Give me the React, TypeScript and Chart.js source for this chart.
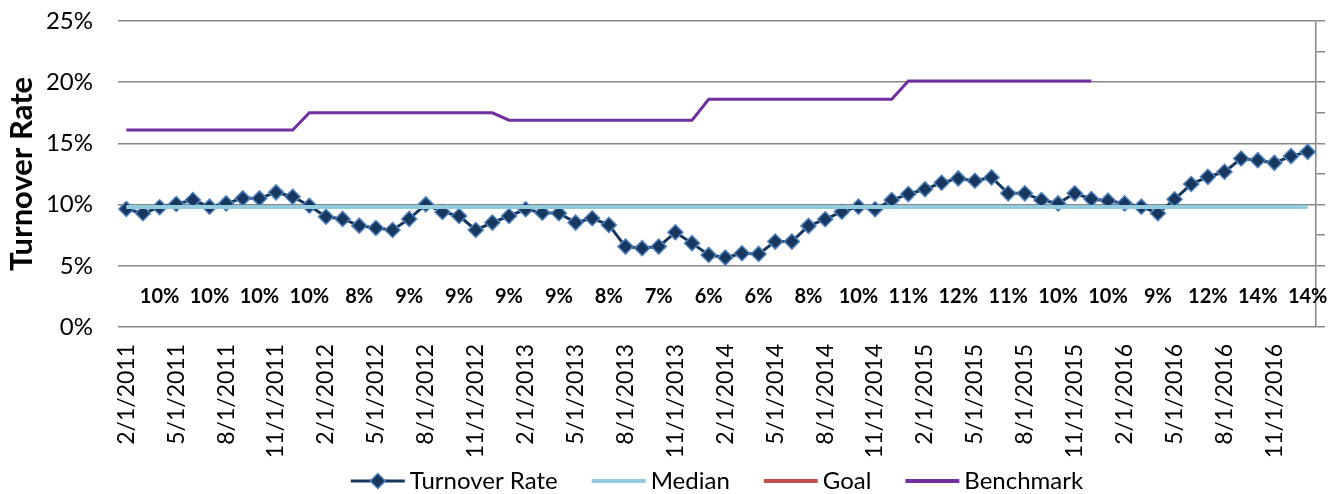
import React, { useEffect, useRef } from 'react';
import { Chart, registerables } from 'chart.js';

Chart.register(...registerables);

const months = [
  '2/1/2011', '3/1/2011', '4/1/2011', '5/1/2011', '6/1/2011', '7/1/2011', '8/1/2011', '9/1/2011', '10/1/2011', '11/1/2011', '12/1/2011', '1/1/2012',
  '2/1/2012', '3/1/2012', '4/1/2012', '5/1/2012', '6/1/2012', '7/1/2012', '8/1/2012', '9/1/2012', '10/1/2012', '11/1/2012', '12/1/2012', '1/1/2013',
  '2/1/2013', '3/1/2013', '4/1/2013', '5/1/2013', '6/1/2013', '7/1/2013', '8/1/2013', '9/1/2013', '10/1/2013', '11/1/2013', '12/1/2013', '1/1/2014',
  '2/1/2014', '3/1/2014', '4/1/2014', '5/1/2014', '6/1/2014', '7/1/2014', '8/1/2014', '9/1/2014', '10/1/2014', '11/1/2014', '12/1/2014', '1/1/2015',
  '2/1/2015', '3/1/2015', '4/1/2015', '5/1/2015', '6/1/2015', '7/1/2015', '8/1/2015', '9/1/2015', '10/1/2015', '11/1/2015', '12/1/2015', '1/1/2016',
  '2/1/2016', '3/1/2016', '4/1/2016', '5/1/2016', '6/1/2016', '7/1/2016', '8/1/2016', '9/1/2016', '10/1/2016', '11/1/2016', '12/1/2016', '1/1/2017',
];

const turnoverRate = [
  9.64, 9.29, 9.78, 10.05, 10.37, 9.83, 10.1, 10.51, 10.51, 11.0, 10.64, 9.91,
  9.01, 8.83, 8.28, 8.09, 7.93, 8.83, 10.02, 9.4, 9.07, 7.93, 8.53, 9.07,
  9.62, 9.34, 9.29, 8.53, 8.88, 8.34, 6.57, 6.44, 6.57, 7.74, 6.85, 5.89,
  5.67, 6.03, 5.97, 6.98, 6.98, 8.26, 8.8, 9.42, 9.83, 9.62, 10.37, 10.86,
  11.25, 11.79, 12.14, 11.95, 12.22, 10.92, 10.92, 10.37, 10.1, 10.92, 10.46, 10.32,
  10.1, 9.83, 9.29, 10.43, 11.68, 12.27, 12.68, 13.77, 13.63, 13.41, 13.96, 14.31,
];

const medianRate = [
  9.8, 9.8, 9.8, 9.8, 9.8, 9.8, 9.8, 9.8, 9.8, 9.8, 9.8, 9.8,
  9.8, 9.8, 9.8, 9.8, 9.8, 9.8, 9.8, 9.8, 9.8, 9.8, 9.8, 9.8,
  9.8, 9.8, 9.8, 9.8, 9.8, 9.8, 9.8, 9.8, 9.8, 9.8, 9.8, 9.8,
  9.8, 9.8, 9.8, 9.8, 9.8, 9.8, 9.8, 9.8, 9.8, 9.8, 9.8, 9.8,
  9.8, 9.8, 9.8, 9.8, 9.8, 9.8, 9.8, 9.8, 9.8, 9.8, 9.8, 9.8,
  9.8, 9.8, 9.8, 9.8, 9.8, 9.8, 9.8, 9.8, 9.8, 9.8, 9.8, 9.8,
];

const goalRate: (number | null)[] = [];

const benchmarkRate: (number | null)[] = [
  16.1, 16.1, 16.1, 16.1, 16.1, 16.1, 16.1, 16.1, 16.1, 16.1, 16.1, 17.5,
  17.5, 17.5, 17.5, 17.5, 17.5, 17.5, 17.5, 17.5, 17.5, 17.5, 17.5, 16.9,
  16.9, 16.9, 16.9, 16.9, 16.9, 16.9, 16.9, 16.9, 16.9, 16.9, 16.9, 18.6,
  18.6, 18.6, 18.6, 18.6, 18.6, 18.6, 18.6, 18.6, 18.6, 18.6, 18.6, 20.1,
  20.1, 20.1, 20.1, 20.1, 20.1, 20.1, 20.1, 20.1, 20.1, 20.1, 20.1, null,
  null, null, null, null, null, null, null, null, null, null, null, null,
];

const quarterEnds = [
  '4/1/2011', '7/1/2011', '10/1/2011', '1/1/2012', '4/1/2012', '7/1/2012', '10/1/2012', '1/1/2013',
  '4/1/2013', '7/1/2013', '10/1/2013', '1/1/2014', '4/1/2014', '7/1/2014', '10/1/2014', '1/1/2015',
  '4/1/2015', '7/1/2015', '10/1/2015', '1/1/2016', '4/1/2016', '7/1/2016', '10/1/2016', '1/1/2017',
];
const quarterRates = [10, 10, 10, 10, 8, 9, 9, 9, 9, 8, 7, 6, 6, 8, 10, 11, 12, 11, 10, 10, 9, 12, 14, 14];

const yTicks = [0, 5, 10, 15, 20, 25];

const FONT = 'Lato, "Open Sans", sans-serif';
const NAVY = '#17375E';
const MARKER_EDGE = '#4F81BD';
const MEDIAN = '#93CDDD';
const GOAL = '#C0504D';
const BENCH = '#7030A0';
const GRID = '#868686';

const quarterLabelPlugin = {
  id: 'quarterLabels',
  afterDatasetsDraw(chart: any) {
    const { ctx, scales } = chart;
    const x = scales.x;
    const y = scales.y;
    ctx.save();
    ctx.font = `bold 20px ${FONT}`;
    ctx.fillStyle = '#000';
    ctx.textAlign = 'center';
    ctx.textBaseline = 'middle';
    quarterEnds.forEach((m, i) => {
      const idx = months.indexOf(m);
      ctx.fillText(quarterRates[i] + '%', x.getPixelForValue(idx), y.getPixelForValue(2.5));
    });
    ctx.restore();
  },
};

// Legend drawn below the x-axis labels, centred under the plot area.
const LEGEND_LINE = 54;
const LEGEND_GAP = 5;
const LEGEND_ITEM_GAP = 34;
const LEGEND_Y = 481;
const LEGEND_FONT = 24;

const bottomLegendPlugin = {
  id: 'bottomLegend',
  afterDraw(chart: any) {
    const { ctx, chartArea } = chart;
    const datasets = chart.data.datasets;
    ctx.save();
    ctx.font = `${LEGEND_FONT}px ${FONT}`;
    const widths = datasets.map((d: any) => ctx.measureText(d.label).width);
    const total =
      widths.reduce((s: number, w: number) => s + w + LEGEND_LINE + LEGEND_GAP, 0) +
      LEGEND_ITEM_GAP * (datasets.length - 1);
    let x = (chartArea.left + chartArea.right) / 2 - total / 2;
    datasets.forEach((d: any, i: number) => {
      ctx.strokeStyle = d.borderColor;
      ctx.lineWidth = i === 0 ? 3 : 4;
      ctx.beginPath();
      ctx.moveTo(x, LEGEND_Y);
      ctx.lineTo(x + LEGEND_LINE, LEGEND_Y);
      ctx.stroke();
      if (d.pointStyle === 'rectRot') {
        const cx = x + LEGEND_LINE / 2;
        ctx.beginPath();
        ctx.moveTo(cx - 7.5, LEGEND_Y);
        ctx.lineTo(cx, LEGEND_Y - 7.5);
        ctx.lineTo(cx + 7.5, LEGEND_Y);
        ctx.lineTo(cx, LEGEND_Y + 7.5);
        ctx.closePath();
        ctx.fillStyle = d.pointBackgroundColor;
        ctx.fill();
        ctx.lineWidth = 1.5;
        ctx.strokeStyle = d.pointBorderColor;
        ctx.stroke();
      }
      x += LEGEND_LINE + LEGEND_GAP;
      ctx.fillStyle = '#000';
      ctx.textAlign = 'left';
      ctx.textBaseline = 'alphabetic';
      ctx.fillText(d.label, x, LEGEND_Y + 8);
      x += widths[i] + LEGEND_ITEM_GAP;
    });
    ctx.restore();
  },
};

export default function App() {
  const ref = useRef<HTMLCanvasElement>(null);

  useEffect(() => {
    document.body.style.margin = '0';
    const chart = new Chart(ref.current!, {
      type: 'line',
      data: {
        labels: months,
        datasets: [
          {
            label: 'Turnover Rate',
            data: turnoverRate,
            borderColor: NAVY,
            borderWidth: 3,
            backgroundColor: NAVY,
            pointStyle: 'rectRot',
            pointRadius: 7.5,
            pointBackgroundColor: NAVY,
            pointBorderColor: MARKER_EDGE,
            pointBorderWidth: 1.5,
            tension: 0,
            order: 3,
          },
          {
            label: 'Median',
            data: medianRate,
            borderColor: MEDIAN,
            backgroundColor: MEDIAN,
            borderWidth: 4,
            pointRadius: 0,
            order: 2,
          },
          {
            label: 'Goal',
            data: goalRate,
            borderColor: GOAL,
            backgroundColor: GOAL,
            borderWidth: 4,
            pointRadius: 0,
            order: 1,
          },
          {
            label: 'Benchmark',
            data: benchmarkRate,
            borderColor: BENCH,
            backgroundColor: BENCH,
            borderWidth: 3,
            pointRadius: 0,
            order: 0,
          },
        ],
      },
      options: {
        animation: false,
        responsive: true,
        maintainAspectRatio: false,
        layout: { padding: { left: 0, right: 7, top: 21, bottom: 0 } },
        plugins: {
          tooltip: { enabled: false },
          legend: { display: false },
        },
        scales: {
          x: {
            type: 'category',
            offset: true,
            grid: { display: false, drawTicks: false },
            border: { display: false },
            afterFit: (axis: any) => {
              axis.height = 167;
              axis.paddingLeft = 0;
              axis.paddingRight = 0;
            },
            ticks: {
              autoSkip: false,
              maxRotation: 90,
              minRotation: 90,
              padding: 17,
              color: '#000',
              font: { family: FONT, size: 23 },
              callback: (_v: any, i: number) => (i % 3 === 0 ? months[i] : ''),
            },
          },
          y: {
            min: 0,
            max: 25,
            afterBuildTicks: (axis: any) => {
              axis.ticks = yTicks.map((v) => ({ value: v }));
            },
            afterFit: (axis: any) => {
              axis.width = 118;
              axis.paddingTop = 0;
              axis.paddingBottom = 0;
            },
            ticks: {
              padding: 25,
              color: '#000',
              font: { family: FONT, size: 24 },
              callback: (v: any) => v + '%',
            },
            grid: { color: GRID, lineWidth: 1.5, drawTicks: false },
            border: { display: false },
            title: {
              display: true,
              text: 'Turnover Rate',
              color: '#000',
              font: { family: FONT, size: 31, weight: 'bold' },
              padding: { top: 3, bottom: 0 },
            },
          },
          y2: {
            position: 'right',
            min: 0,
            max: 25,
            afterFit: (axis: any) => {
              axis.width = 9;
              axis.paddingTop = 0;
              axis.paddingBottom = 0;
            },
            ticks: { display: false, stepSize: 2.5 },
            grid: { drawOnChartArea: false, drawTicks: true, tickLength: 9, color: GRID, lineWidth: 1.5 },
            border: { display: true, color: GRID, width: 1.5 },
          },
        },
      },
      plugins: [quarterLabelPlugin, bottomLegendPlugin],
    });
    return () => chart.destroy();
  }, []);

  return (
    <div style={{ width: 1332, height: 494, position: 'relative' }}>
      <canvas ref={ref} />
    </div>
  );
}
